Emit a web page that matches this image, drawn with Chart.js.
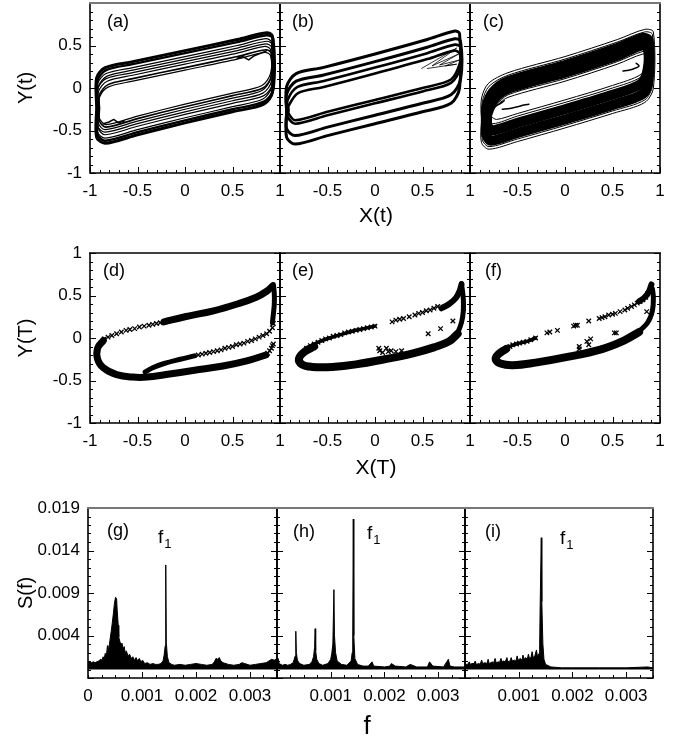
<!DOCTYPE html>
<html><head><meta charset="utf-8">
<script src="https://cdn.jsdelivr.net/npm/chart.js@4.4.0/dist/chart.umd.min.js"></script>
<style>
html,body{margin:0;padding:0;background:#fff}
#fig{position:relative;width:690px;height:746px;overflow:hidden;background:#fff}
#fig canvas{position:absolute;z-index:1}
.t{position:absolute;z-index:2;font-family:"Liberation Sans",Arial,sans-serif;color:#000;white-space:nowrap;line-height:1}
.c{transform:translate(-50%,-50%)}
.r{transform:translate(-50%,-50%) rotate(-90deg)}
.p{transform:translateY(-50%);font-size:18px}
.f1{transform:translateY(-50%);font-size:19px}
.f1 span{font-size:13px;position:relative;top:5px;margin-left:1px;color:#000}
</style></head>
<body><div id="fig">
<div class="t r" style="left:25px;top:88px;font-size:20px">Y(t)</div>
<div class="t c" style="left:376px;top:214px;font-size:21px">X(t)</div>
<div class="t r" style="left:25px;top:338px;font-size:20px">Y(T)</div>
<div class="t c" style="left:376px;top:466px;font-size:21px">X(T)</div>
<div class="t r" style="left:25px;top:593px;font-size:20px">S(f)</div>
<div class="t c" style="left:367px;top:725px;font-size:26px">f</div>
<div class="t p" style="left:107px;top:21px">(a)</div>
<div class="t p" style="left:292px;top:21px">(b)</div>
<div class="t p" style="left:483px;top:21px">(c)</div>
<div class="t p" style="left:103px;top:270px">(d)</div>
<div class="t p" style="left:292px;top:270px">(e)</div>
<div class="t p" style="left:485px;top:270px">(f)</div>
<div class="t p" style="left:107px;top:530px">(g)</div>
<div class="t p" style="left:293px;top:531px">(h)</div>
<div class="t p" style="left:485px;top:531px">(i)</div>
<div class="t f1" style="left:158px;top:536px">f<span>1</span></div>
<div class="t f1" style="left:367px;top:532px">f<span>1</span></div>
<div class="t f1" style="left:560px;top:537px">f<span>1</span></div>
</div>
<script>
// ---------------- DATA ----------------
// tick values / labels
const xyTicks = [-1, -0.5, 0, 0.5, 1];
const xLabelsFirst = ['-1', '-0.5', '0', '0.5', '1'];
const xTicksRest = [-0.5, 0, 0.5, 1];
const xLabelsRest = ['-0.5', '0', '0.5', '1'];
const yTicksRow1 = [-1, -0.5, 0, 0.5];
const yLabelsRow1 = ['-1', '-0.5', '0', '0.5'];
const yTicksRow2 = [-1, -0.5, 0, 0.5, 1];
const yLabelsRow2 = ['-1', '-0.5', '0', '0.5', '1'];
const fTicksFirst = [0, 0.001, 0.002, 0.003];
const fLabelsFirst = ['0', '0.001', '0.002', '0.003'];
const fTicksRest = [0.001, 0.002, 0.003];
const fLabelsRest = ['0.001', '0.002', '0.003'];
const sTicks = [0.004, 0.009, 0.014, 0.019];
const sLabels = ['0.004', '0.009', '0.014', '0.019'];

// (a) X(t),Y(t) loops
const a1 = [[-.93,-.23],[-.93,.12],[-.84,.24],[-.55,.31],[0,.44],[.55,.57],[.86,.65],[.92,.61],[.92,-.05],[.83,-.19],[.5,-.28],[0,-.41],[-.5,-.55],[-.84,-.65],[-.93,-.58],[-.93,-.23]];
const a2 = [[-.92,-.23],[-.92,.09],[-.83,.21],[-.55,.28],[0,.41],[.55,.54],[.86,.62],[.93,.58],[.93,-.02],[.83,-.16],[.5,-.25],[0,-.38],[-.5,-.52],[-.84,-.62],[-.92,-.55],[-.92,-.23]];
const a3 = [[-.92,-.24],[-.92,.05],[-.83,.17],[-.55,.24],[0,.37],[.55,.50],[.85,.58],[.91,.54],[.91,.01],[.82,-.13],[.5,-.22],[0,-.35],[-.5,-.49],[-.84,-.59],[-.92,-.52],[-.92,-.24]];
const a4 = [[-.91,-.23],[-.91,.02],[-.82,.14],[-.55,.21],[0,.34],[.55,.47],[.86,.55],[.92,.51],[.92,.05],[.83,-.09],[.5,-.18],[0,-.31],[-.5,-.45],[-.84,-.55],[-.91,-.48],[-.91,-.23]];
const a5 = [[-.92,-.23],[-.92,-.01],[-.83,.11],[-.55,.18],[0,.31],[.55,.44],[.85,.52],[.91,.48],[.91,.08],[.82,-.06],[.5,-.15],[0,-.28],[-.5,-.42],[-.84,-.52],[-.92,-.45],[-.92,-.23]];
const a6 = [[-.91,-.23],[-.91,-.04],[-.82,.08],[-.55,.15],[0,.28],[.55,.41],[.84,.49],[.90,.45],[.90,.11],[.81,-.03],[.5,-.12],[0,-.25],[-.5,-.39],[-.84,-.49],[-.91,-.42],[-.91,-.23]];
const a7 = [[-.90,-.24],[-.90,-.08],[-.81,.04],[-.55,.11],[0,.24],[.55,.37],[.85,.45],[.91,.41],[.91,.14],[.82,0],[.5,-.09],[0,-.22],[-.5,-.36],[-.83,-.46],[-.90,-.39],[-.90,-.24]];
const a8 = [[-.90,-.24],[-.90,-.11],[-.81,.01],[-.55,.08],[0,.21],[.55,.34],[.84,.42],[.90,.38],[.90,.17],[.81,.03],[.5,-.06],[0,-.19],[-.5,-.33],[-.83,-.43],[-.90,-.36],[-.90,-.24]];
const aFr1 = [[-.86,-.42],[-.80,-.40],[-.75,-.37],[-.70,-.41],[-.64,-.39]];
const aFr2 = [[.55,.35],[.61,.37],[.67,.33],[.73,.38],[.80,.41],[.86,.44]];

// (b)
const b1 = [[-.93,-.28],[-.93,.02],[-.83,.17],[-.55,.24],[0,.40],[.55,.57],[.84,.67],[.89,.64],[.89,0],[.8,-.18],[.5,-.28],[0,-.42],[-.5,-.56],[-.84,-.66],[-.93,-.58],[-.93,-.28]];
const b2 = [[-.93,-.28],[-.93,-.07],[-.83,.08],[-.55,.15],[0,.31],[.55,.48],[.84,.58],[.90,.55],[.90,.10],[.8,-.08],[.5,-.18],[0,-.32],[-.5,-.46],[-.84,-.56],[-.93,-.48],[-.93,-.28]];
const b3 = [[-.92,-.24],[-.92,-.14],[-.82,.01],[-.55,.08],[0,.24],[.55,.41],[.84,.51],[.90,.48],[.90,.24],[.8,.06],[.5,-.04],[0,-.18],[-.5,-.32],[-.84,-.42],[-.92,-.34],[-.92,-.24]];
const b4 = [[-.91,-.26],[-.91,-.21],[-.81,-.06],[-.55,.01],[0,.17],[.55,.34],[.83,.44],[.89,.41],[.89,.28],[.8,.10],[.5,0],[0,-.14],[-.5,-.28],[-.84,-.38],[-.91,-.30],[-.91,-.26]];
const bFan = [[.49,.23],[.86,.47],[.60,.26],[.88,.40],[.68,.27],[.89,.33],[.74,.26],[.86,.28],[.55,.23]];

// (c)
const c1 = [[-.88,-.38],[-.88,-.13],[-.81,.05],[-.6,.18],[0,.37],[.55,.57],[.84,.69],[.93,.66],[.93,0],[.84,-.17],[.5,-.30],[0,-.47],[-.5,-.63],[-.8,-.72],[-.88,-.64],[-.88,-.38]];
const c2 = [[-.87,-.38],[-.87,-.16],[-.80,.02],[-.6,.15],[0,.34],[.55,.54],[.84,.66],[.92,.63],[.92,.03],[.84,-.14],[.5,-.27],[0,-.44],[-.5,-.60],[-.8,-.69],[-.87,-.61],[-.87,-.38]];
const k1 = [[-.83,-.38],[-.83,-.23],[-.76,-.05],[-.6,.08],[0,.27],[.55,.47],[.82,.59],[.88,.56],[.88,.10],[.82,-.07],[.5,-.20],[0,-.37],[-.5,-.53],[-.78,-.62],[-.83,-.54],[-.83,-.38]];
const k2 = [[-.82,-.37],[-.82,-.32],[-.75,-.14],[-.6,-.01],[0,.18],[.55,.38],[.81,.50],[.87,.47],[.87,.22],[.8,.05],[.5,-.08],[0,-.25],[-.5,-.41],[-.78,-.50],[-.82,-.42],[-.82,-.37]];
const c3 = [[-.80,-.32],[-.80,-.30],[-.73,-.21],[-.6,-.08],[0,.11],[.55,.31],[.82,.43],[.88,.40],[.88,.30],[.8,.13],[.5,0],[0,-.17],[-.5,-.33],[-.76,-.42],[-.80,-.34],[-.80,-.32]];
const c4 = [[-.78,-.31],[-.78,-.29],[-.71,-.20],[-.6,-.11],[0,.08],[.55,.28],[.82,.40],[.87,.37],[.87,.30],[.8,.16],[.5,.03],[0,-.14],[-.5,-.30],[-.72,-.37],[-.78,-.33],[-.78,-.31]];
const cFr1 = [[.61,.20],[.67,.21],[.73,.23],[.78,.26],[.75,.29]];
const cFr2 = [[-.66,-.25],[-.58,-.24],[-.50,-.22],[-.43,-.20],[-.38,-.19]];
const cFr3 = [[-.79,-.16],[-.74,-.21],[-.69,-.19],[-.64,-.15]];

// (d) Poincare section
const dUp = [[-.22,.19],[0,.25],[.3,.32],[.55,.40],[.75,.48],[.86,.55],[.92,.61]];
const dRight = [[.93,.63],[.94,.52],[.94,.40],[.93,.28],[.92,.18]];
const dLow = [[-.86,-.03],[-.92,-.12],[-.92,-.25],[-.86,-.35],[-.72,-.43],[-.55,-.46],[-.40,-.46],[-.2,-.43],[.1,-.38],[.4,-.33],[.65,-.27],[.85,-.20]];
const dTongue = [[-.42,-.40],[-.34,-.35],[-.22,-.30],[-.05,-.25],[.1,-.21]];
const dX = [[-.85,-.01],[-.81,.01],[-.77,.03],[-.72,.05],[-.67,.07],[-.62,.09],[-.58,.10],[-.53,.11],[-.48,.13],[-.43,.14],[-.38,.15],[-.34,.16],[-.30,.17],[-.26,.18],
 [.93,.17],[.92,.12],[.89,.08],[.86,.05],[.82,.03],[.78,.01],[.74,-.01],[.70,-.03],[.66,-.04],[.62,-.06],[.58,-.07],[.54,-.08],[.50,-.10],[.46,-.11],[.42,-.12],[.38,-.14],[.34,-.15],[.30,-.16],[.26,-.17],[.22,-.18],[.18,-.19],[.14,-.20],
 [.87,-.18],[.89,-.15],[.91,-.12],[.92,-.09],[.93,-.07]];

// (e)
const eLow = [[-.64,-.10],[-.74,-.16],[-.80,-.24],[-.77,-.31],[-.66,-.34],[-.45,-.34],[-.2,-.31],[.1,-.25],[.4,-.18],[.62,-.11],[.78,-.04],[.87,.05]];
const eRight = [[.86,.03],[.91,.18],[.93,.32],[.93,.45],[.92,.56],[.91,.64]];
const eTR = [[.70,.35],[.78,.40],[.85,.47],[.89,.55],[.91,.63]];
const eUpLine = [[-.72,-.12],[-.6,-.05],[-.48,0],[-.36,.04],[-.24,.08],[-.12,.11],[0,.14]];
const eX = [[-.72,-.12],[-.68,-.09],[-.64,-.07],[-.60,-.05],[-.56,-.03],[-.52,-.01],[-.48,0],[-.44,.02],[-.40,.03],[-.36,.04],[-.32,.06],[-.28,.07],[-.24,.08],[-.20,.09],[-.16,.10],[-.12,.11],[-.08,.12],[-.04,.13],[0,.14],
 [.18,.19],[.22,.21],[.26,.22],[.30,.23],[.36,.25],[.42,.27],[.46,.29],[.50,.30],[.54,.32],[.58,.33],[.62,.35],[.66,.37],
 [.04,-.12],[.05,-.15],[.08,-.17],[.12,-.12],[.14,-.16],[.17,-.15],[.22,-.16],[.28,-.15],[.56,.05],[.69,.11],[.82,.20],[.93,.35],[.93,.40]];

// (f)
const fLow = [[-.62,-.13],[-.70,-.19],[-.73,-.25],[-.68,-.30],[-.55,-.32],[-.31,-.29],[.04,-.22],[.39,-.13],[.62,-.03],[.78,.07]];
const fRight = [[.76,.06],[.87,.18],[.92,.32],[.93,.48],[.92,.58]];
const fTR = [[.78,.43],[.84,.48],[.88,.54],[.91,.63]];
const fUpLine = [[-.71,-.20],[-.62,-.12],[-.51,-.07],[-.40,-.04],[-.31,0]];
const fX = [[-.71,-.20],[-.68,-.17],[-.65,-.14],[-.62,-.12],[-.58,-.10],[-.55,-.08],[-.51,-.07],[-.48,-.06],[-.44,-.05],[-.40,-.04],[-.36,-.02],[-.31,0],[-.19,.06],[-.16,.07],[-.08,.09],[.09,.14],[.11,.15],[.13,.15],[.25,.20],[.36,.23],[.39,.24],[.42,.25],[.46,.27],[.50,.28],[.53,.29],[.58,.31],[.63,.33],[.66,.35],[.70,.37],[.73,.39],[.76,.41],[.79,.43],[.82,.45],[.85,.48],[.87,.52],
 [.15,-.10],[.15,-.13],[.23,-.04],[.27,-.01],[.25,-.08],[.52,.06],[.54,.06],[.86,.31]];

// (g),(h),(i) spectra [f, S(f)]
const gSpec = [[0,.0008],[.00003,.0009],[.00006,.0008],[.0001,.0009],[.00013,.0008],[.00016,.0009],[.0002,.0010],[.00023,.0012],[.00026,.0011],[.00028,.0015],[.0003,.0013],[.00032,.0019],[.00034,.0016],[.00036,.0028],[.00037,.0019],[.00039,.0026],[.00041,.0036],[.00043,.0045],[.00045,.0055],[.00047,.0066],[.00049,.0078],[.00051,.0085],[.00053,.0083],[.00054,.0070],[.00056,.0052],[.00057,.0038],[.00059,.0033],[.00061,.0029],[.00063,.0031],[.00065,.0024],[.00067,.0027],[.00069,.0019],[.00071,.0022],[.00074,.0016],[.00077,.0018],[.0008,.0013],[.00083,.0015],[.00086,.0011],[.00089,.0014],[.00092,.0010],[.00095,.0013],[.00098,.0009],[.00101,.0011],[.00105,.0007],[.0011,.0008],[.00115,.0006],[.0012,.0007],[.00125,.0006],[.0013,.0006],[.00135,.0007],[.00139,.0010],[.00141,.0017],[.00143,.0028],[.00144,.0123],[.00145,.0032],[.00147,.0015],[.0015,.0008],[.00155,.0006],[.0016,.0005],[.0017,.0006],[.0018,.0005],[.0019,.0006],[.002,.0007],[.0021,.0006],[.0022,.0005],[.0023,.0006],[.00234,.0009],[.00237,.0013],[.0024,.0012],[.00243,.0014],[.00246,.0010],[.0025,.0008],[.0026,.0006],[.0027,.0005],[.0028,.0006],[.00285,.0008],[.0029,.0007],[.003,.0005],[.0031,.0006],[.0032,.0007],[.0033,.0008],[.00335,.0010],[.0034,.0012],[.00345,.0011],[.0035,.0013]];
const hSpec = [[0,.0008],[.00002,.0013],[.00004,.0007],[.0001,.0005],[.00015,.0006],[.0002,.0005],[.00025,.0006],[.0003,.0008],[.00032,.0012],[.00034,.0016],[.00035,.0045],[.00036,.0020],[.00038,.0011],[.00042,.0007],[.0005,.0005],[.0006,.0006],[.00065,.0009],[.00068,.0015],[.0007,.0026],[.00071,.0048],[.00072,.0022],[.00074,.0012],[.00078,.0007],[.00085,.0005],[.00095,.0007],[.001,.0012],[.00102,.0019],[.00104,.0030],[.00106,.0094],[.00107,.0040],[.00109,.0020],[.00112,.0010],[.0012,.0006],[.0013,.0005],[.00138,.0010],[.0014,.0020],[.00141,.0036],[.00142,.0177],[.00143,.0040],[.00145,.0013],[.0015,.0006],[.0016,.0004],[.0017,.0004],[.00177,.0009],[.0018,.0004],[.002,.0003],[.0021,.0004],[.00213,.0007],[.0022,.0004],[.0024,.0003],[.00248,.0006],[.0026,.0003],[.0028,.0003],[.00284,.0009],[.0029,.0004],[.0031,.0003],[.00319,.0012],[.00322,.0004],[.0033,.0003],[.0035,.0003]];
const iSpec = [[0,.0007],[.00002,.0006],[.00005,.0006],[.00008,.0009],[.0001,.0006],[.00013,.0007],[.00017,.0007],[.00019,.0010],[.00021,.0006],[.00026,.0007],[.00028,.0006],[.00031,.0011],[.00033,.0007],[.00037,.0008],[.00041,.0007],[.00043,.0012],[.00045,.0007],[.00048,.0008],[.00051,.0009],[.00053,.0007],[.00056,.0013],[.00058,.0008],[.00062,.0009],[.00064,.0008],[.00067,.0013],[.00069,.0009],[.00072,.0010],[.00075,.0009],[.00078,.0014],[.0008,.0009],[.00084,.0010],[.00086,.0014],[.00088,.0010],[.00092,.0011],[.00095,.0010],[.00097,.0016],[.00099,.0011],[.00103,.0013],[.00106,.0011],[.00108,.0017],[.0011,.0012],[.00113,.0014],[.00116,.0012],[.00118,.0018],[.0012,.0013],[.00123,.0015],[.00125,.0021],[.00127,.0014],[.0013,.0016],[.00133,.0023],[.00135,.0015],[.00138,.0019],[.00139,.0029],[.0014,.0078],[.00142,.0155],[.00143,.0080],[.00145,.0030],[.00147,.0012],[.0015,.0006],[.0016,.0003],[.0018,.0002],[.002,.0002],[.0025,.0002],[.003,.0002],[.0034,.0003],[.0035,.0002]];

// ---------------- RENDERING ----------------
Chart.defaults.font.family = '"Liberation Sans", Arial, sans-serif';
Chart.defaults.color = '#000';

const steps = (a, b, s) => { const r = []; for (let i = 0; ; i++) { const v = a + i * s; if (v > b + s * 1e-6) break; r.push(+v.toFixed(8)); } return r; };

const framePlugin = {
  id: 'frame',
  afterDatasetsDraw(chart, args, o) {
    const { ctx, chartArea: ca, scales: { x, y } } = chart;
    ctx.save();
    ctx.strokeStyle = '#000';
    ctx.lineWidth = 1;
    ctx.beginPath();
    [[o.xMinor, 3], [o.xMajor, 6]].forEach(([vals, len]) => vals.forEach(v => {
      const px = Math.round(x.getPixelForValue(v)) + 0.5;
      ctx.moveTo(px, ca.bottom); ctx.lineTo(px, ca.bottom - len);
    }));
    [[o.yMinor, 3], [o.yMajor, 6]].forEach(([vals, len]) => vals.forEach(v => {
      const py = Math.round(y.getPixelForValue(v)) + 0.5;
      ctx.moveTo(ca.left, py); ctx.lineTo(ca.left + len, py);
      ctx.moveTo(ca.right, py); ctx.lineTo(ca.right - len, py);
    }));
    ctx.stroke();
    ctx.lineWidth = 1.6;
    ctx.beginPath();
    ctx.moveTo(ca.left, ca.top); ctx.lineTo(ca.left, ca.bottom);
    ctx.lineTo(ca.right, ca.bottom); ctx.lineTo(ca.right, ca.top);
    ctx.stroke();
    ctx.strokeStyle = o.topColor; ctx.lineWidth = o.topWidth;
    ctx.beginPath(); ctx.moveTo(ca.left - 1, ca.top); ctx.lineTo(ca.right + 1, ca.top); ctx.stroke();
    ctx.restore();
  }
};

const P = arr => arr.map(([x, y]) => ({ x, y }));
const L = (arr, w, t) => ({ data: P(arr), showLine: true, borderColor: '#000', borderWidth: w, pointRadius: 0, tension: t === undefined ? 0.3 : t, fill: false, borderCapStyle: 'round', borderJoinStyle: 'round' });
const X = arr => ({ data: P(arr), showLine: false, pointStyle: 'crossRot', pointRadius: 3.2, borderColor: '#000', borderWidth: 1.3, backgroundColor: '#000' });
const S = arr => ({ data: P(arr), borderColor: '#000', borderWidth: 1, pointRadius: 0, tension: 0, fill: 'origin', backgroundColor: '#000' });

const fig = document.getElementById('fig');
function panel(o) {
  const PL = o.first ? 80 : 10, PR = 16, PT = 24, PB = 34;
  const w = o.W + PL + PR, h = o.H + PT + PB;
  const cv = document.createElement('canvas');
  cv.width = w; cv.height = h;
  cv.style.left = (o.L - PL) + 'px'; cv.style.top = (o.T - PT) + 'px';
  cv.style.width = w + 'px'; cv.style.height = h + 'px';
  fig.appendChild(cv);
  const tickFont = { size: 17, family: '"Liberation Sans", Arial, sans-serif' };
  const yScale = {
    type: 'linear', display: !!o.first, min: o.yMin, max: o.yMax,
    afterBuildTicks: s => { s.ticks = o.yTicks.map(v => ({ value: v })); },
    ticks: { autoSkip: false, padding: 8, font: tickFont, color: '#000', callback: (v, i) => o.yLabels[i] },
    grid: { display: false, drawTicks: false }, border: { display: false }
  };
  if (o.first) yScale.afterFit = s => { s.width = PL; };
  new Chart(cv, {
    type: o.type,
    data: { datasets: o.datasets },
    options: {
      responsive: false, animation: false, devicePixelRatio: 1, events: [],
      layout: { padding: { left: o.first ? 0 : PL, right: PR, top: PT, bottom: 0 } },
      plugins: {
        legend: { display: false }, tooltip: { enabled: false },
        frame: { xMajor: o.xMajor, xMinor: o.xMinor, yMajor: o.yMajor, yMinor: o.yMinor, topColor: o.topColor, topWidth: o.topWidth }
      },
      scales: {
        x: {
          type: 'linear', min: o.xMin, max: o.xMax,
          afterBuildTicks: s => { s.ticks = o.xTicks.map(v => ({ value: v })); },
          afterFit: s => { s.height = PB; },
          ticks: { autoSkip: false, maxRotation: 0, minRotation: 0, padding: 8, font: tickFont, color: '#000', callback: (v, i) => o.xLabels[i] },
          grid: { display: false, drawTicks: false }, border: { display: false }
        },
        y: yScale
      }
    },
    plugins: [framePlugin]
  });
}

const colsTop = [90, 280, 470, 660];
const colsBot = [88, 277, 465, 653];
const rowTop = [3, 253, 508];
const H = 170;
const phase = { xMin: -1, xMax: 1, yMin: -1, yMax: 1, xMajor: xyTicks, xMinor: steps(-1, 1, 0.1), yMajor: xyTicks, yMinor: steps(-1, 1, 0.1) };

const row1 = [
  [L(a1, 3), L(a2, 2.4), L(a3, 1.2), L(a4, 1.2), L(a5, 1.2), L(a6, 1.2), L(a7, 1.6), L(a8, 1.2), L(aFr1, 1.5, 0), L(aFr2, 1.5, 0)],
  [L(b1, 3), L(b2, 3), L(b3, 2.6), L(b4, 2.6), L(bFan, 0.8, 0)],
  [L(c1, 1), L(c2, 1), L(k1, 10), L(k2, 10), L(c3, 1), L(c4, 1), L(cFr1, 1.5, 0.3), L(cFr2, 1.5, 0.3), L(cFr3, 1.5, 0.3)]
];
row1.forEach((ds, i) => panel(Object.assign({}, phase, {
  type: 'scatter', first: i === 0, L: colsTop[i], W: colsTop[i + 1] - colsTop[i], T: rowTop[0], H,
  xTicks: i === 0 ? xyTicks : xTicksRest, xLabels: i === 0 ? xLabelsFirst : xLabelsRest,
  yTicks: yTicksRow1, yLabels: yLabelsRow1, topColor: '#777', topWidth: 2, datasets: ds
})));

const row2 = [
  [L(dUp, 7, 0.4), L(dRight, 5, 0.4), L(dLow, 7, 0.4), L(dTongue, 5, 0.4), X(dX)],
  [L(eLow, 8, 0.4), L(eRight, 5, 0.4), L(eTR, 6, 0.4), L(eUpLine, 3.5, 0.4), X(eX)],
  [L(fLow, 8, 0.4), L(fRight, 5, 0.4), L(fTR, 6, 0.4), L(fUpLine, 3.5, 0.4), X(fX)]
];
row2.forEach((ds, i) => panel(Object.assign({}, phase, {
  type: 'scatter', first: i === 0, L: colsTop[i], W: colsTop[i + 1] - colsTop[i], T: rowTop[1], H,
  xTicks: i === 0 ? xyTicks : xTicksRest, xLabels: i === 0 ? xLabelsFirst : xLabelsRest,
  yTicks: yTicksRow2, yLabels: yLabelsRow2, topColor: '#000', topWidth: 1.6, datasets: ds
})));

const row3 = [[S(gSpec)], [S(hSpec)], [S(iSpec)]];
row3.forEach((ds, i) => panel({
  type: 'line', first: i === 0, L: colsBot[i], W: colsBot[i + 1] - colsBot[i], T: rowTop[2], H,
  xMin: 0, xMax: 0.0035, yMin: -0.001, yMax: 0.019,
  xTicks: i === 0 ? fTicksFirst : fTicksRest, xLabels: i === 0 ? fLabelsFirst : fLabelsRest,
  yTicks: sTicks, yLabels: sLabels,
  xMajor: [0.001, 0.002, 0.003], xMinor: steps(0, 0.0035, 0.00025),
  yMajor: steps(-0.001, 0.019, 0.005), yMinor: steps(-0.001, 0.019, 0.001),
  topColor: '#777', topWidth: 2, datasets: ds
}));
</script>
</body></html>
